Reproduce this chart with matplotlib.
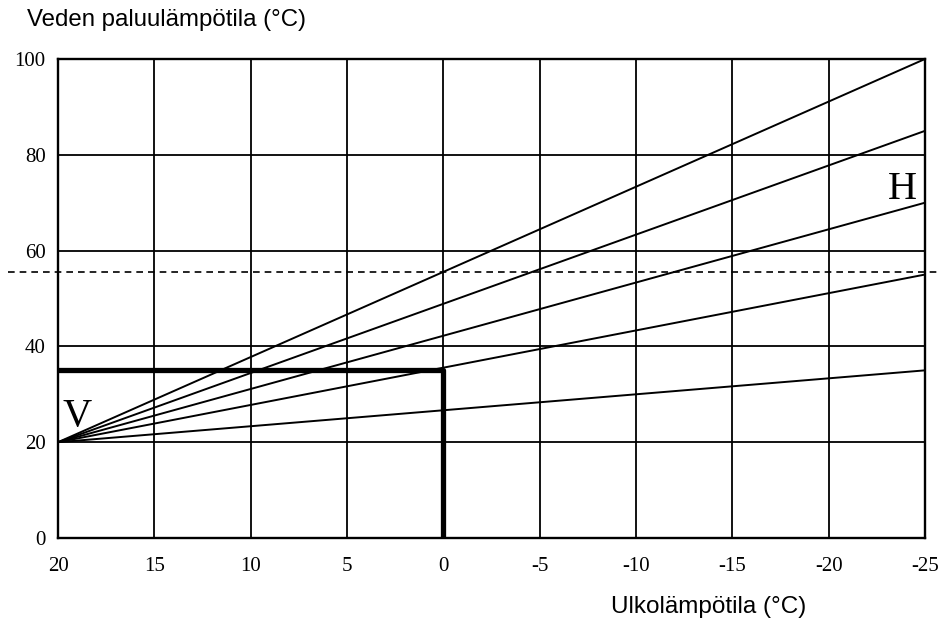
import matplotlib
matplotlib.use("Agg")
import matplotlib.pyplot as plt

# heating curves: all start at V (20 °C outdoor, 20 °C water)
curve_start = (20, 20)
curve_end_x = -25
curve_end_y = [100, 85, 70, 55, 35]

# example reading: 0 °C outdoor -> 35 °C water
example_x = 0
example_y = 35

# dashed limit line
limit_y = 55.5
limit_x = [22.6, -25.8]

x_ticks = [20, 15, 10, 5, 0, -5, -10, -15, -20, -25]
y_ticks = [0, 20, 40, 60, 80, 100]

serif = "Liberation Serif"
sans = "Liberation Sans"

fig = plt.figure(figsize=(9.4, 6.23), dpi=100)
ax = fig.add_axes([58 / 940, 85 / 623, 867 / 940, 479 / 623])

ax.set_xlim(20, -25)
ax.set_ylim(0, 100)
ax.set_xticks(x_ticks)
ax.set_yticks(y_ticks)
ax.set_xticklabels([str(t) for t in x_ticks], family=serif, fontsize=15)
ax.set_yticklabels([str(t) for t in y_ticks], family=serif, fontsize=15)
ax.tick_params(length=0, pad=9)
ax.tick_params(axis="x", pad=14)
ax.grid(True, color="black", linewidth=1.3)
for s in ax.spines.values():
    s.set_linewidth(1.7)

for ye in curve_end_y:
    ax.plot([curve_start[0], curve_end_x], [curve_start[1], ye],
            color="black", linewidth=1.4)

ax.plot(limit_x, [limit_y, limit_y], color="black", linewidth=1.2,
        linestyle=(0, (4, 3)), clip_on=False)

# thick example path
ax.plot([20, example_x, example_x], [example_y, example_y, 0],
        color="black", linewidth=3.8, solid_capstyle="butt")

ax.text(19.0, 25.3, "V", family=serif, fontsize=29, ha="center", va="center")
ax.text(-23.8, 72.8, "H", family=serif, fontsize=29, ha="center", va="center")

fig.text(27 / 940, 1 - 20 / 623, "Veden paluulämpötila (°C)", family=sans,
         fontsize=17.3, ha="left", va="center")
fig.text(709 / 940, 1 - 607 / 623, "Ulkolämpötila (°C)", family=sans,
         fontsize=17.5, ha="center", va="center")

fig.savefig("out.png", dpi=100)
